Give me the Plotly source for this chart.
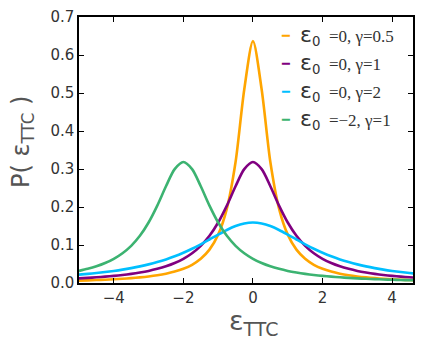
import plotly.graph_objects as go

x_vals = [-5 + 0.25 * i for i in range(41)]

half_g05 = [0.0063, 0.0070, 0.0078, 0.0087, 0.0098, 0.0111, 0.0127, 0.0147, 0.0172, 0.0204,
            0.0245, 0.0300, 0.0374, 0.0480, 0.0637, 0.0878, 0.1273, 0.1959, 0.3183, 0.5093]
p_g05 = half_g05 + [0.6366] + half_g05[::-1]

half_g1 = [0.0122, 0.0135, 0.0150, 0.0167, 0.0187, 0.0211, 0.0240, 0.0275, 0.0318, 0.0372,
           0.0439, 0.0525, 0.0637, 0.0784, 0.0979, 0.1242, 0.1592, 0.2037, 0.2546, 0.2996]
p_g1 = half_g1 + [0.3183] + half_g1[::-1]

half_g2 = [0.0220, 0.0240, 0.0263, 0.0289, 0.0318, 0.0352, 0.0392, 0.0437, 0.0490, 0.0551,
           0.0621, 0.0702, 0.0796, 0.0901, 0.1019, 0.1145, 0.1273, 0.1395, 0.1498, 0.1567]
p_g2 = half_g2 + [0.1592] + half_g2[::-1]

p_shift = [0.0318, 0.0372, 0.0439, 0.0525, 0.0637, 0.0784, 0.0979, 0.1242, 0.1592, 0.2037,
           0.2546, 0.2996, 0.3183,
           0.2996, 0.2546, 0.2037, 0.1592, 0.1242, 0.0979, 0.0784, 0.0637, 0.0525, 0.0439,
           0.0372, 0.0318, 0.0275, 0.0240, 0.0211, 0.0187, 0.0167, 0.0150, 0.0135, 0.0122,
           0.0111, 0.0102, 0.0093, 0.0086, 0.0079, 0.0074, 0.0068, 0.0064]

series = [
    ("ε<sub>0</sub> =0, γ=0.5", p_g05, "#FFA500"),
    ("ε<sub>0</sub> =0, γ=1", p_g1, "#800080"),
    ("ε<sub>0</sub> =0, γ=2", p_g2, "#00BFFF"),
    ("ε<sub>0</sub> =−2, γ=1", p_shift, "#3CB371"),
]
label_rest = ["=0, γ=0.5", "=0, γ=1", "=0, γ=2", "=−2, γ=1"]

fig = go.Figure()
for name, ys, col in series:
    fig.add_trace(go.Scatter(x=x_vals, y=ys, mode="lines", name=name,
                             line=dict(color=col, width=2.6, shape="spline", smoothing=0.8),
                             showlegend=False))

# page body has an 8px margin on every side; keep the figure inside the window
OFF = 8
FW, FH = 425 - 2 * OFF, 349 - 2 * OFF
L, R, T, B = 79 - OFF, 4, 9, (FH + OFF) - 283
PW, PH = FW - L - R, FH - T - B
TOP = OFF + T

def px(xp):
    return (xp - OFF - L) / PW

def py(yp):
    return (283 - yp) / PH

# manual legend
row_y = [36, 64, 92, 119]
for (name, ys, col), rest, ry in zip(series, label_rest, row_y):
    fig.add_annotation(xref="paper", yref="paper", x=px(279), y=py(ry),
                       xanchor="left", yanchor="middle", showarrow=False,
                       text=f'<span style="color:{col}">━</span>',
                       font=dict(size=13, family="DejaVu Sans"))
    fig.add_annotation(xref="paper", yref="paper", x=px(298), y=py(ry),
                       xanchor="left", yanchor="middle", showarrow=False,
                       text=(f'<span style="font-family:DejaVu Sans;font-size:22px">ε</span>'
                             f'<span style="font-family:DejaVu Sans;font-size:19px"><sub>0</sub></span>'
                             f'  {rest}'),
                       font=dict(size=17, family="Liberation Serif", color="#333"))

# axis titles
fig.add_annotation(xref="paper", yref="paper", x=px(253), y=py(322),
                   xanchor="center", yanchor="middle", showarrow=False,
                   text="ε<sub>TTC</sub>", font=dict(family="DejaVu Sans", size=27, color="#555"))
fig.add_annotation(xref="paper", yref="paper", x=px(22), y=py(142),
                   xanchor="center", yanchor="middle", showarrow=False, textangle=-90,
                   text="P( ε<sub>TTC</sub> )", font=dict(family="DejaVu Sans", size=24, color="#555"))

axis_common = dict(showline=True, linecolor="black", linewidth=1.5, mirror="ticks",
                   ticks="inside", ticklen=5, tickwidth=1, tickcolor="black",
                   showgrid=False, zeroline=False, automargin=False,
                   ticklabeloverflow="allow",
                   tickfont=dict(family="DejaVu Sans", size=15, color="#333"))

# reference is cropped on the right just past x = 4.6
fig.update_xaxes(range=[-5, 4.6], tickvals=[-4, -2, 0, 2, 4],
                 ticktext=["−4", "−2", "0", "2", "4"], **axis_common)
fig.update_yaxes(range=[0, 0.7], tickvals=[0, 0.1, 0.2, 0.3, 0.4, 0.5, 0.6, 0.7],
                 ticktext=["0.0", "0.1", "0.2", "0.3", "0.4", "0.5", "0.6", "0.7"],
                 **axis_common)

fig.update_layout(width=FW, height=FH, margin=dict(l=L, r=R, t=T, b=B),
                  plot_bgcolor="white", paper_bgcolor="white")

fig.write_html("out.html")
